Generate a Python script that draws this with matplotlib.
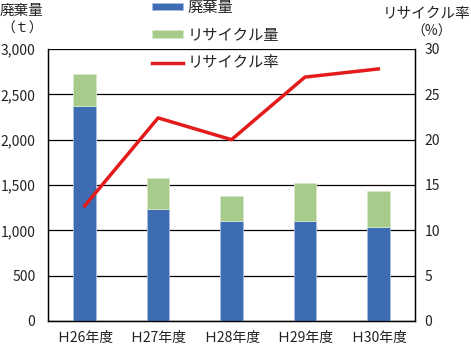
import numpy as np
import matplotlib.pyplot as plt

plt.rcParams['font.family'] = ['Noto Sans CJK JP', 'DejaVu Sans']

# データ
years = ['Ｈ26年度', 'Ｈ27年度', 'Ｈ28年度', 'Ｈ29年度', 'Ｈ30年度']
haiki = [2370, 1230, 1105, 1105, 1035]      # 廃棄量 (t)
recycle = [350, 350, 273, 420, 398]         # リサイクル量 (t)
rate = [12.7, 22.4, 20.0, 26.9, 27.8]       # リサイクル率 (%)

blue = '#3e6cb3'
green = '#a6cb8b'
red = '#e41b1b'

fig = plt.figure(figsize=(4.71, 3.48), dpi=100)
ax = fig.add_axes([48 / 471, 27 / 348, 367 / 471, 272 / 348])
x = np.arange(len(years))

b1 = ax.bar(x, haiki, width=0.31, color=blue, edgecolor='#a9bde0', linewidth=0.6, zorder=3)
b2 = ax.bar(x, recycle, bottom=haiki, width=0.31, color=green, edgecolor='#d5e8c8', linewidth=0.6, zorder=3)

ax.set_ylim(0, 3000)
ax.set_xlim(-0.5, len(years) - 0.5)
ax.set_yticks(np.arange(0, 3001, 500))
ax.set_yticklabels([f'{v:,}' for v in range(0, 3001, 500)])
ax.set_xticks(x)
ax.set_xticklabels(years)
ax.grid(axis='y', color='black', linewidth=0.9, zorder=1)
ax.tick_params(length=0, labelsize=10, colors='#222222')
ax.tick_params(axis='y', pad=9)
ax.tick_params(axis='x', pad=7)
for s in ax.spines.values():
    s.set_linewidth(0.9)
ax.spines['top'].set_visible(False)

ax2 = ax.twinx()
l1, = ax2.plot(x, rate, color=red, linewidth=2.5, zorder=4)
ax2.set_ylim(0, 30)
ax2.set_yticks(np.arange(0, 31, 5))
ax2.tick_params(length=0, labelsize=10, pad=7, colors='#222222')
ax2.spines['top'].set_visible(False)
for s in ax2.spines.values():
    s.set_linewidth(0.9)

fig.text(22 / 471, 1 - 11 / 348, '廃棄量', ha='center', va='center', fontsize=10.5, color='#222222')
fig.text(22 / 471, 1 - 29 / 348, '（ｔ）', ha='center', va='center', fontsize=10, color='#222222')
fig.text(427 / 471, 1 - 14 / 348, 'リサイクル率', ha='center', va='center', fontsize=10.5, color='#222222')
fig.text(432 / 471, 1 - 32 / 348, '（%）', ha='center', va='center', fontsize=10, color='#222222')

fig.legend([b1, b2, l1], ['廃棄量', 'リサイクル量', 'リサイクル率'],
           loc='upper left', bbox_to_anchor=(152 / 471, 1 + 1 / 348),
           frameon=False, fontsize=11, handlelength=2.0, handleheight=0.4,
           labelspacing=0.7, handletextpad=0.35, borderpad=0, borderaxespad=0,
           labelcolor='#222222')

fig.savefig('out.png', dpi=100)
